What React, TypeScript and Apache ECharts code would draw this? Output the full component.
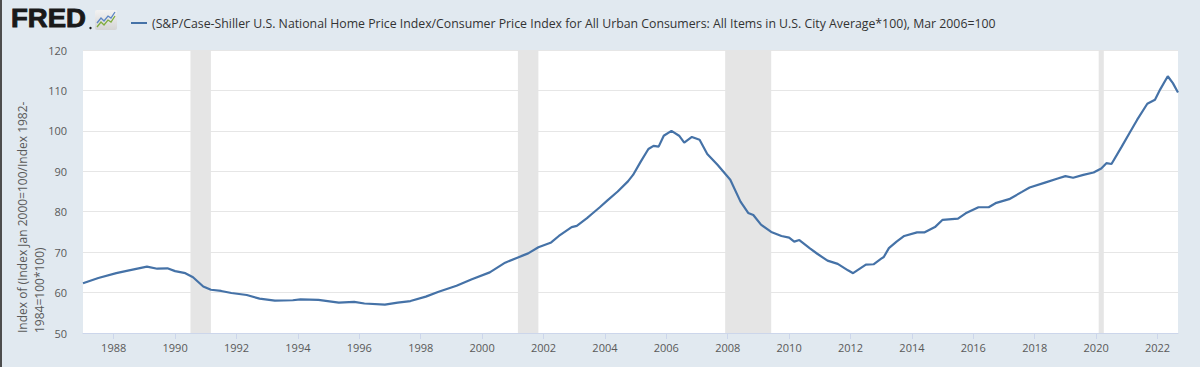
import React, { useEffect, useRef } from "react";
import * as echarts from "echarts";

const dates = [
  "1987-01","1987-07","1988-02","1988-07","1989-02","1989-06","1989-10","1990-01","1990-05","1990-08",
  "1990-12","1991-03","1991-07","1991-11","1992-05","1992-10","1993-04","1993-11","1994-02","1994-09",
  "1995-05","1995-11","1996-03","1996-11","1997-04","1997-09","1998-03","1998-08","1999-03","1999-09",
  "2000-04","2000-10","2001-03","2001-07","2001-11","2002-04","2002-07","2002-12","2003-02","2003-06",
  "2003-08","2003-11","2004-02","2004-06","2004-10","2004-12","2005-03","2005-06","2005-08","2005-10",
  "2005-12","2006-03","2006-06","2006-08","2006-11","2007-02","2007-05","2007-09","2008-02","2008-06",
  "2008-09","2008-11","2009-02","2009-06","2009-10","2010-01","2010-03","2010-05","2010-09","2010-12",
  "2011-04","2011-08","2011-12","2012-02","2012-07","2012-10","2013-01","2013-02","2013-04","2013-07",
  "2013-10","2014-03","2014-06","2014-10","2015-01","2015-07","2015-10","2016-03","2016-07","2016-10",
  "2017-03","2017-08","2017-11","2018-05","2018-10","2019-01","2019-04","2019-08","2019-12","2020-03",
  "2020-05","2020-07","2020-11","2021-02","2021-05","2021-09","2021-12","2022-02","2022-05","2022-07",
  "2022-09",
];

const values = [
  62.3, 63.6, 64.8, 65.5, 66.4, 65.9, 66.0, 65.3, 64.8, 63.8,
  61.5, 60.7, 60.4, 59.9, 59.4, 58.5, 58.0, 58.1, 58.3, 58.2,
  57.5, 57.7, 57.3, 57.0, 57.5, 57.9, 59.0, 60.2, 61.7, 63.3,
  65.0, 67.4, 68.7, 69.7, 71.2, 72.4, 74.0, 76.2, 76.5, 78.4,
  79.5, 81.1, 82.8, 85.0, 87.5, 89.1, 92.4, 95.5, 96.3, 96.1,
  98.8, 100.0, 98.8, 97.1, 98.5, 97.8, 94.3, 91.6, 87.9, 82.5,
  79.7, 79.2, 76.8, 75.0, 74.0, 73.6, 72.6, 73.0, 71.0, 69.6,
  67.9, 67.1, 65.5, 64.8, 66.9, 67.0, 68.4, 68.8, 71.0, 72.6,
  74.0, 74.9, 74.9, 76.2, 78.0, 78.3, 79.6, 81.1, 81.1, 82.2,
  83.1, 84.9, 86.0, 87.2, 88.2, 88.8, 88.4, 89.1, 89.7, 90.7,
  92.0, 91.8, 96.1, 99.4, 102.7, 106.7, 107.7, 110.2, 113.5, 111.8,
  109.5,
];

const recessionStarts = ["1990-07", "2001-03", "2007-12", "2020-02"];
const recessionEnds = ["1991-03", "2001-11", "2009-06", "2020-04"];

const xTickYears = [1988, 1990, 1992, 1994, 1996, 1998, 2000, 2002, 2004, 2006, 2008, 2010, 2012, 2014, 2016, 2018, 2020, 2022];
const yTicks = [50, 60, 70, 80, 90, 100, 110, 120];

const seriesName =
  "(S&P/Case-Shiller U.S. National Home Price Index/Consumer Price Index for All Urban Consumers: All Items in U.S. City Average*100), Mar 2006=100";
const yAxisTitle = "Index of (Index Jan 2000=100/Index 1982-\n1984=100*100)";

const toYear = (s: string) => {
  const [y, m] = s.split("-").map(Number);
  return y + (m - 1) / 12;
};

export default function App() {
  const ref = useRef<HTMLDivElement>(null);

  useEffect(() => {
    if (!ref.current) return;
    const chart = echarts.init(ref.current, undefined, { renderer: "svg" });
    const font = "'Open Sans', 'Noto Sans', sans-serif";
    const lineColor = "#4572a7";
    const textColor = "#595959";

    chart.setOption({
      animation: false,
      backgroundColor: "#e1e9f0",
      textStyle: { fontFamily: font },
      grid: {
        left: 83,
        right: 22,
        top: 50,
        bottom: 34,
        show: true,
        backgroundColor: "#ffffff",
        borderWidth: 0,
        containLabel: false,
        outerBoundsMode: "none",
      },
      legend: {
        left: 126,
        top: 12,
        icon: "rect",
        itemWidth: 16,
        itemHeight: 2,
        itemGap: 5,
        textStyle: { color: "#333333", fontSize: 12.3, fontFamily: font },
        data: [seriesName],
      },
      xAxis: {
        type: "value",
        min: toYear("1987-01"),
        max: toYear(dates[dates.length - 1]),
        axisLine: { show: true, lineStyle: { color: "#ccd6eb", width: 1 } },
        axisTick: {
          show: true,
          customValues: xTickYears,
          length: 6,
          lineStyle: { color: "#ccd6eb" },
        },
        axisLabel: {
          customValues: xTickYears,
          formatter: (v: number) => String(Math.round(v)),
          color: textColor,
          fontSize: 11,
          margin: 9,
          fontFamily: font,
        },
        splitLine: { show: false },
      },
      yAxis: {
        type: "value",
        min: yTicks[0],
        max: yTicks[yTicks.length - 1],
        interval: 10,
        axisLine: { show: false },
        axisTick: { show: false },
        axisLabel: { color: textColor, fontSize: 11, margin: 16, fontFamily: font },
        splitLine: { show: true, lineStyle: { color: "#e6e6e6", width: 1 } },
      },
      series: [
        {
          name: seriesName,
          type: "line",
          data: dates.map((d, i) => [toYear(d), values[i]]),
          showSymbol: false,
          symbol: "none",
          lineStyle: { color: lineColor, width: 2.2 },
          itemStyle: { color: lineColor },
          markArea: {
            silent: true,
            itemStyle: { color: "#e5e5e5" },
            data: recessionStarts.map((s, i) => [{ xAxis: toYear(s) }, { xAxis: toYear(recessionEnds[i]) }]),
          },
          z: 3,
        },
      ],
      graphic: [
        { type: "rect", left: 0, top: 0, shape: { width: 2, height: 367 }, style: { fill: "#4d4d4d" } },
        {
          type: "text",
          x: 11,
          y: 6,
          scaleX: 1.1,
          style: {
            text: "FRED",
            fill: "#1a1a1a",
            stroke: "#1a1a1a",
            lineWidth: 0.9,
            font: `bold 25px 'Liberation Sans', Arial, sans-serif`,
          },
        },
        { type: "circle", shape: { cx: 90.5, cy: 28, r: 1.2 }, style: { fill: "#1a1a1a" } },
        {
          type: "rect",
          shape: { x: 95, y: 10, width: 22, height: 20, r: 2 },
          style: {
            fill: new echarts.graphic.LinearGradient(0, 0, 0, 1, [
              { offset: 0, color: "#f2f2f2" },
              { offset: 1, color: "#d4d4d4" },
            ]),
          },
        },
        {
          type: "polyline",
          shape: { points: [[97, 23], [101, 18], [104, 21], [108, 16], [111, 18], [115, 12]] },
          style: { stroke: "#5d86c4", lineWidth: 1.3, fill: null },
        },
        {
          type: "polyline",
          shape: { points: [[97, 27], [101, 22], [104, 25], [108, 20], [111, 22], [115, 16]] },
          style: { stroke: "#7fac3e", lineWidth: 1.3, fill: null },
        },
        {
          type: "text",
          x: 31,
          y: 333,
          rotation: Math.PI / 2,
          style: {
            text: yAxisTitle,
            fill: textColor,
            font: `12px ${font}`,
            align: "left",
            verticalAlign: "middle",
            lineHeight: 17,
          },
        },
      ],
    });

    return () => chart.dispose();
  }, []);

  return (
    <div
      ref={ref}
      style={{ position: "absolute", left: 0, top: 0, width: 1200, height: 367 }}
    />
  );
}
